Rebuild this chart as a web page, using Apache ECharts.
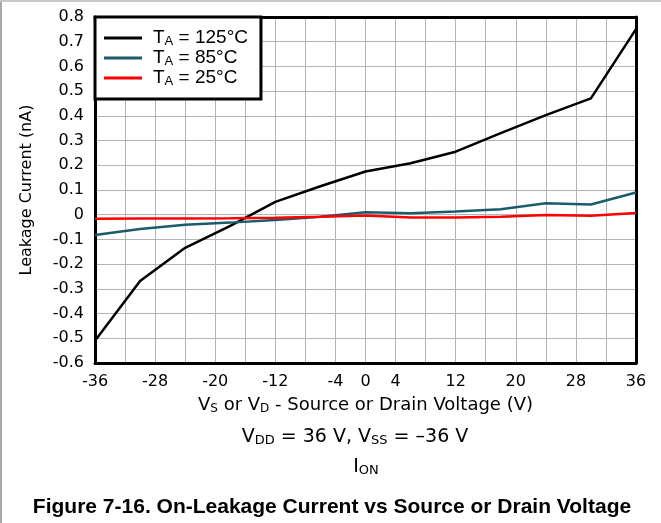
<!DOCTYPE html>
<html><head><meta charset="utf-8">
<script src="https://cdn.jsdelivr.net/npm/echarts/dist/echarts.min.js"></script>
<style>html,body{margin:0;padding:0;background:#fff}#c{width:661px;height:523px}</style>
</head><body><div id="c"></div>
<script>
// ---- data ----
const xVoltage = [-36, -30, -24, -18, -12, -6, 0, 6, 12, 18, 24, 30, 36];
const ta125 = [-0.51, -0.268, -0.134, -0.045, 0.052, 0.115, 0.175, 0.208, 0.255, 0.33, 0.403, 0.471, 0.751];
const ta85  = [-0.082, -0.058, -0.041, -0.032, -0.021, -0.008, 0.010, 0.006, 0.013, 0.022, 0.046, 0.041, 0.090];
const ta25  = [-0.016, -0.015, -0.015, -0.014, -0.012, -0.008, -0.003, -0.011, -0.011, -0.008, -0.001, -0.004, 0.007];
const seriesTemps = ['125°C', '85°C', '25°C'];
const xTickLabels = [-36, -28, -20, -12, -4, 0, 4, 12, 20, 28, 36];
const yTickLabels = ['-0.6','-0.5','-0.4','-0.3','-0.2','-0.1','0','0.1','0.2','0.3','0.4','0.5','0.6','0.7','0.8'];

const F = '"Liberation Sans", Arial, sans-serif';
const D = '"DejaVu Sans", sans-serif';
const colors = ['#000000', '#1b5b6b', '#ff0000'];
const seriesValues = [ta125, ta85, ta25];

function rich(font, main, sub, subPad, lh) {
  return {
    n: {fontSize: main, fontFamily: font, color: '#000', lineHeight: lh},
    p: {fontSize: main, fontFamily: font, color: '#000', lineHeight: lh, padding: [0, 0, 0, 6]},
    s: {fontSize: sub, fontFamily: font, color: '#000', lineHeight: lh - subPad, padding: [subPad, 0, 0, 0]}
  };
}

const chart = echarts.init(document.getElementById('c'), null, {renderer: 'canvas'});
const names = seriesTemps.map(t => 'TA = ' + t);

chart.setOption({
  animation: false,
  backgroundColor: '#fff',
  grid: {left: 95, top: 17, right: 25, bottom: 160, containLabel: false},
  legend: {
    data: names,
    orient: 'vertical',
    left: 95, top: 17,
    backgroundColor: '#fff',
    borderColor: '#000', borderWidth: 3, borderRadius: 0,
    padding: [11, 13, 11, 9],
    itemGap: 0,
    icon: 'rect',
    itemWidth: 38, itemHeight: 3,
    formatter: name => '{p|T}{s|A}{n| = ' + name.split(' = ')[1] + '}',
    textStyle: {fontSize: 19, fontFamily: F, color: '#000', rich: rich(F, 19, 13, 7, 20)}
  },
  xAxis: [{
    type: 'value', min: -36, max: 36, interval: 4,
    axisLine: {show: true, onZero: false, lineStyle: {color: '#000', width: 3}},
    axisTick: {show: false},
    axisLabel: {
      margin: 11, fontSize: 16, fontFamily: D, color: '#000',
      showMinLabel: true, showMaxLabel: true,
      formatter: v => xTickLabels.indexOf(Math.round(v)) >= 0 ? String(Math.round(v)) : ''
    },
    splitLine: {show: true, lineStyle: {color: '#b4b4b4', width: 1}},
    name: '{n|V}{s|S}{n| or V}{s|D}{n| - Source or Drain Voltage (V)}',
    nameLocation: 'middle', nameGap: 32,
    nameTextStyle: {fontSize: 18, fontFamily: D, color: '#000', rich: rich(D, 18, 12, 7, 20)}
  }, {
    type: 'value', min: -36, max: 36, interval: 4, position: 'top',
    axisLine: {show: true, onZero: false, lineStyle: {color: '#000', width: 3}},
    axisTick: {show: false}, axisLabel: {show: false}, splitLine: {show: false}
  }],
  yAxis: [{
    type: 'value', min: -0.6, max: 0.8, interval: 0.1,
    axisLine: {show: true, onZero: false, lineStyle: {color: '#000', width: 3}},
    axisTick: {show: false},
    axisLabel: {
      margin: 11, fontSize: 16, fontFamily: D, color: '#000',
      formatter: v => yTickLabels[Math.round((v + 0.6) * 10)]
    },
    splitLine: {show: true, lineStyle: {color: '#b4b4b4', width: 1}},
    name: 'Leakage Current (nA)',
    nameLocation: 'middle', nameGap: 60, nameRotate: 90,
    nameTextStyle: {fontSize: 16, fontFamily: D, color: '#000'}
  }, {
    type: 'value', min: -0.6, max: 0.8, interval: 0.1, position: 'right',
    axisLine: {show: true, onZero: false, lineStyle: {color: '#000', width: 3}},
    axisTick: {show: false}, axisLabel: {show: false}, splitLine: {show: false}
  }],
  series: seriesValues.map((vals, i) => ({
    name: names[i], type: 'line', symbol: 'none',
    data: xVoltage.map((x, j) => [x, vals[j]]),
    lineStyle: {color: colors[i], width: 2.5},
    itemStyle: {color: colors[i]},
    z: 3 + i
  })),
  graphic: [
    {type: 'line', shape: {x1: 1, y1: 0, x2: 1, y2: 523}, style: {stroke: '#a8a8a8', lineWidth: 2}},
    {type: 'line', shape: {x1: 0, y1: 1, x2: 661, y2: 1}, style: {stroke: '#c8c8c8', lineWidth: 2}},
    {type: 'text', x: 355, y: 437, style: {
      text: '{n|V}{s|DD}{n| = 36 V, V}{s|SS}{n| = –36 V}', rich: rich(D, 19, 13, 8, 22),
      align: 'center', verticalAlign: 'middle'}},
    {type: 'text', x: 366, y: 467, style: {
      text: '{n|I}{s|ON}', rich: rich(D, 19, 13, 8, 22),
      align: 'center', verticalAlign: 'middle'}},
    {type: 'text', x: 332, y: 507, style: {
      text: 'Figure 7-16. On-Leakage Current vs Source or Drain Voltage',
      font: 'bold 21px ' + F, fill: '#000',
      align: 'center', verticalAlign: 'middle'}}
  ]
});
</script></body></html>
